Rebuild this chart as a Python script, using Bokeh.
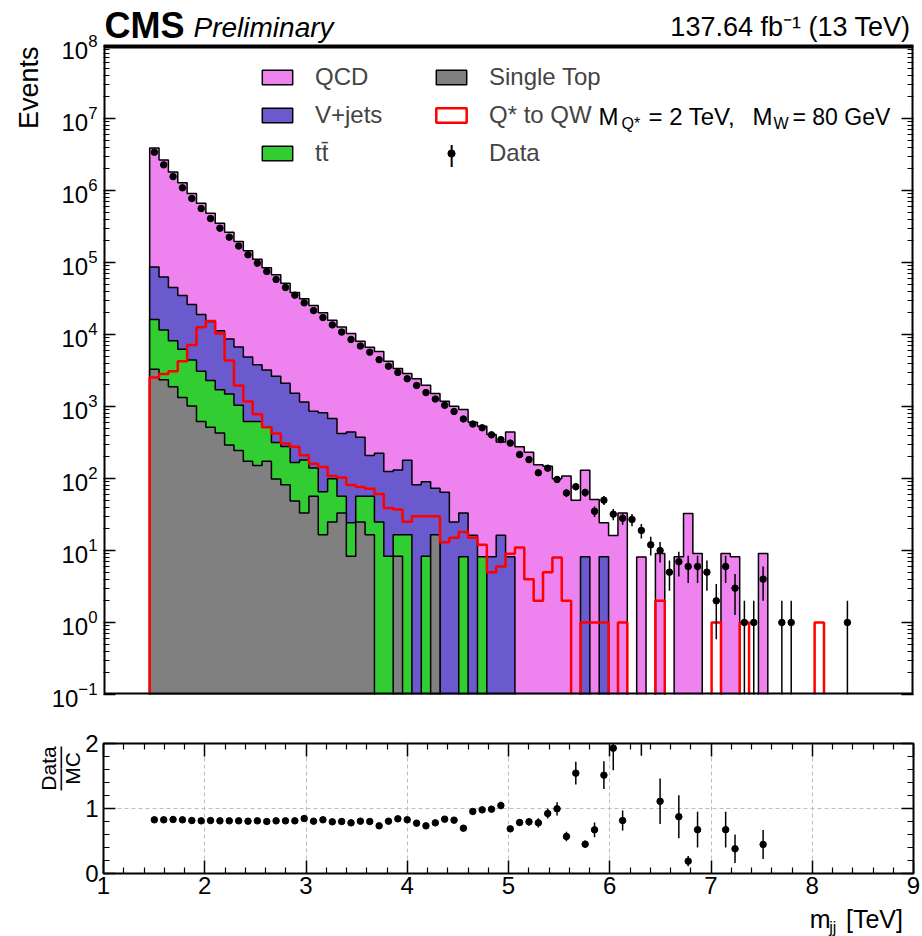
import numpy as np
from bokeh.plotting import figure
from bokeh.layouts import column
from bokeh.models import (FixedTicker, LogAxis, LinearAxis, Label, Legend, LegendItem,
                          CustomJSTickFormatter, Range1d, BoxAnnotation)
from bokeh.embed import file_html
from bokeh.resources import INLINE

FONT = "Liberation Sans"

# ---------------- binning (TeV) ----------------
edge_lo = 1.456
bin_width = 0.0925

# ---------------- per-bin yields (75 bins) ----------------
qcd = [3800000, 2590000, 1760000, 1250000, 886000, 646000, 469000, 341000, 254000, 189000,
       141000, 107000, 81300, 64700, 49200, 36700, 30100, 24400, 19200, 15100,
       12300, 9890, 7700, 6460, 5580, 4140, 3240, 2690, 2340, 1890,
       1440, 1120, 987, 875, 589, 525, 400, 304, 433, 275,
       232, 155, 148, 99, 108, 50, 122, 51, 16, 16.1,
       33.3, 0, 8.1, 0, 9.1, 0, 8.2, 32.7, 9.1, 0,
       0, 9.1, 8.2, 0, 0, 9.1, 0, 0, 0, 0,
       0, 0, 0, 0, 0]

vjets = [70400, 51400, 36600, 28700, 21600, 15800, 12800, 9540, 7170, 5640,
         4250, 3170, 2710, 2320, 1830, 1360, 976, 721, 752, 582,
         365, 417, 318, 151, 200, 117, 115, 163, 81.7, 81.6,
         57, 64.6, 24.8, 25.1, 16.3, 0, 8.2, 16.3, 8.2, 0,
         0, 0, 0, 0, 0, 0, 8.2, 0, 8.2, 0,
         0, 0, 0, 0, 0, 0, 0, 0, 0, 0,
         0, 0, 0, 0, 0, 0, 0, 0, 0, 0,
         0, 0, 0, 0, 0]

ttbar = [12800, 9160, 6310, 4900, 3420, 2470, 1790, 1280, 1200, 796,
         444, 466, 341, 217, 197, 118, 147, 83, 48.8, 74.1,
         23.6, 15.9, 32.1, 40.4, 24.8, 8.3, 8.2, 16.5, 0, 8.3,
         0, 0, 0, 8.2, 0, 8.2, 0, 0, 0, 0,
         0, 0, 0, 0, 0, 0, 0, 0, 0, 0,
         0, 0, 0, 0, 0, 0, 0, 0, 0, 0,
         0, 0, 0, 0, 0, 0, 0, 0, 0, 0,
         0, 0, 0, 0, 0]

single_top = [3300, 2360, 1880, 1330, 1020, 618, 515, 430, 292, 244,
              174, 152, 174, 98.6, 82.2, 48.8, 33.3, 56.9, 16.5, 24.8,
              33.3, 8.3, 24.8, 16.5, 0, 0, 8.3, 0, 0, 0,
              16.5, 0, 0, 0, 0, 0, 0, 0, 0, 0,
              0, 0, 0, 0, 0, 0, 0, 0, 0, 0,
              0, 0, 0, 0, 0, 0, 0, 0, 0, 0,
              0, 0, 0, 0, 0, 0, 0, 0, 0, 0,
              0, 0, 0, 0, 0]

signal = [2520, 2820, 3090, 4250, 7140, 12600, 15400, 10300, 4340, 1960,
          1170, 783, 515, 421, 306, 277, 210, 160, 145, 108,
          103, 81, 76, 72, 61, 39, 37, 25, 30, 30,
          30, 13, 15, 18, 15, 12, 5, 6, 9, 11,
          4, 2, 5, 8, 2, 0, 1, 1, 1, 0,
          1, 0, 0, 0, 2, 0, 0, 0, 0, 0,
          1, 0, 0, 1, 0, 0, 0, 0, 0, 0,
          0, 1, 0, 0, 0]

data = [3400000, 2270000, 1560000, 1090000, 775000, 562000, 408000, 300000, 225000, 169000,
        128000, 98000, 75000, 58100, 45000, 35200, 27500, 21500, 17200, 13600,
        10800, 8530, 6920, 5690, 4470, 3630, 2970, 2430, 1960, 1560,
        1270, 1040, 853, 671, 571, 506, 404, 347, 310, 215,
        183, 120, 139, 97, 63, 77, 64, 35, 50, 32,
        28, 27, 19, 12, 10, 5, 7, 6, 6, 5,
        2, 6, 3, 1, 1, 4, 0, 1, 1, 0,
        0, 0, 0, 0, 1]

nan = float("nan")
ratio = [0.826, 0.826, 0.831, 0.826, 0.815, 0.810, 0.815, 0.810, 0.810, 0.810,
         0.805, 0.810, 0.800, 0.810, 0.810, 0.810, 0.846, 0.805, 0.826, 0.795,
         0.800, 0.779, 0.805, 0.800, 0.733, 0.805, 0.841, 0.826, 0.774, 0.733,
         0.779, 0.836, 0.821, 0.697, 0.954, 0.979, 0.990, 1.046, 0.687, 0.785,
         0.795, 0.779, 0.923, 0.995, 0.569, 1.544, 0.451, 0.672, 1.513, 1.928,
         0.815, nan, 2.35, nan, 1.111, nan, 0.874, 0.190, 0.674, nan,
         nan, 0.674, 0.380, nan, nan, 0.447, nan, nan, nan, nan,
         nan, nan, nan, nan, nan]

x_major = [1, 2, 3, 4, 5, 6, 7, 8, 9]
ratio_major = [0, 1, 2]
y_lo, y_hi = 0.1, 1e8

# ---------------- derived geometry ----------------
n = len(data)
edges = edge_lo + bin_width * np.arange(n + 1)
centers = 0.5 * (edges[:-1] + edges[1:])

lvl_st = np.array(single_top, float)
lvl_tt = lvl_st + np.array(ttbar, float)
lvl_vj = lvl_tt + np.array(vjets, float)
lvl_all = lvl_vj + np.array(qcd, float)

FLOOR = 1e-3


def step_path(vals):
    v = np.asarray(vals, float)
    v = np.where(v > 0, v, FLOOR)
    xs = np.repeat(edges, 2)
    ys = np.concatenate([[FLOOR], np.repeat(v, 2), [FLOOR]])
    return xs, ys


QCD_C = "#ee82ee"
VJ_C = "#6a5acd"
TT_C = "#32cd32"
ST_C = "#808080"

# ---------------- main panel ----------------
# The frame reaches the top of the page so that the header text lives inside it;
# the plotted box (0.1 .. 1e8) spans the lower 648 px (72 px per decade).
FRAME_TOP_PAD = 46
PX_PER_DECADE = 72.0
y_frame_hi = y_hi * 10 ** (FRAME_TOP_PAD / PX_PER_DECADE)

p = figure(width=922, height=714, x_range=Range1d(1, 9), y_range=Range1d(y_lo, y_frame_hi),
           y_axis_type="log", output_backend="svg", toolbar_location=None,
           min_border_left=103, min_border_right=9, min_border_top=0, min_border_bottom=20)
p.xaxis.visible = False
p.grid.visible = False
p.outline_line_color = None
p.background_fill_color = "white"
p.border_fill_color = "white"

y_major = [10.0 ** k for k in range(-1, 9)]
y_minor = [m * 10.0 ** k for k in range(-1, 8) for m in range(2, 10)]
yticker = FixedTicker(ticks=y_major, minor_ticks=y_minor)


def style_axis(ax, labels=True, major_len=12, minor_len=6, standoff=6):
    ax.major_tick_in = major_len
    ax.major_tick_out = 0
    ax.minor_tick_in = minor_len
    ax.minor_tick_out = 0
    ax.major_tick_line_color = "black"
    ax.minor_tick_line_color = "black"
    ax.major_tick_line_width = 1.5
    ax.minor_tick_line_width = 1.2
    ax.axis_line_color = None
    ax.major_label_text_font = FONT
    ax.major_label_text_font_size = "24px"
    ax.major_label_text_color = "black"
    ax.major_label_standoff = standoff
    if not labels:
        ax.formatter = CustomJSTickFormatter(code="return ''")


p.yaxis.ticker = yticker
style_axis(p.yaxis[0])
ry_ax = LogAxis(ticker=yticker)
style_axis(ry_ax, labels=False)
p.add_layout(ry_ax, "right")

r_all = p.patch(*step_path(lvl_all), fill_color=QCD_C, line_color="black", line_width=1.5)
r_vj = p.patch(*step_path(lvl_vj), fill_color=VJ_C, line_color="black", line_width=1.5)
r_tt = p.patch(*step_path(lvl_tt), fill_color=TT_C, line_color="black", line_width=1.5)
r_st = p.patch(*step_path(lvl_st), fill_color=ST_C, line_color="black", line_width=1.5)
r_sig = p.patch(*step_path(signal), fill_color=None, line_color="#ff0000", line_width=2.5)

d = np.array(data, float)
dm = d > 0
dx = centers[dm]
dy = d[dm]
de = np.sqrt(dy)
p.segment(dx, np.maximum(dy - de, FLOOR), dx, dy + de, line_color="black", line_width=1.5)
r_data = p.scatter(dx, dy, size=6.5, color="black")

# plot box
p.add_layout(BoxAnnotation(left=1, right=9, bottom=y_lo, top=y_hi, fill_color=None,
                           fill_alpha=0, line_color="black", line_alpha=1.0, line_width=4))

leg_common = dict(border_line_color=None, background_fill_alpha=0, padding=0, margin=0,
                  spacing=10, glyph_width=38, glyph_height=18, label_standoff=19,
                  label_text_font=FONT, label_text_font_size="24px", label_height=27)
leg1 = Legend(items=[LegendItem(label="QCD", renderers=[r_all]),
                     LegendItem(label="V+jets", renderers=[r_vj]),
                     LegendItem(label="tt\u0304", renderers=[r_tt])],
              location=(155, 527), **leg_common)
leg2 = Legend(items=[LegendItem(label="Single Top", renderers=[r_st]),
                     LegendItem(label="Q* to QW", renderers=[r_sig]),
                     LegendItem(label="Data", renderers=[r_data])],
              location=(329, 527), **leg_common)
p.add_layout(leg1)
p.add_layout(leg2)


def slab(fig, x, y, text, size, **kw):
    """Label in screen pixels relative to the frame (origin bottom-left)."""
    fig.add_layout(Label(x=x, y=y, x_units="screen", y_units="screen", text=text,
                         text_font=FONT, text_font_size=size, text_color="black",
                         text_baseline="middle", **kw))


def plab(fig, side, x, y, text, size, **kw):
    """Label placed in a side panel, positioned in canvas pixels."""
    fig.add_layout(Label(x=x, y=y, x_units="canvas", y_units="canvas", text=text,
                         text_font=FONT, text_font_size=size, text_color="black",
                         text_baseline="middle", **kw), side)


def main_xy(px, py):
    return px - 103, 694 - py


# signal legend label remainder (with subscripts)
for txt, px, py, sz in [("M", 598, 116, "24px"), ("Q*", 621, 123, "16px"),
                        ("= 2 TeV,", 648, 116, "24px"), ("M", 752, 116, "24px"),
                        ("W", 773, 123, "16px"), ("= 80 GeV", 792, 116, "23px")]:
    sx, sy = main_xy(px, py)
    slab(p, sx, sy, txt, sz)
sx, sy = main_xy(451, 153)
slab(p, sx, sy, "|", "24px", text_align="center")

# header (inside the extended frame)
sx, sy = main_xy(104, 25)
slab(p, sx, sy, "CMS", "36px", text_font_style="bold")
sx, sy = main_xy(193, 27)
slab(p, sx, sy, "Preliminary", "28px", text_font_style="italic")
sx, sy = main_xy(910, 26)
slab(p, sx, sy, "137.64 fb\u207b\u00b9 (13 TeV)", "27px", text_align="right")

# y title in the left side panel
plab(p, "left", 28, 46, "Events", "27px", angle=np.pi / 2, text_align="right")

# ---------------- ratio panel ----------------
r = figure(width=922, height=190, x_range=p.x_range, y_range=Range1d(0, 2),
           output_backend="svg", toolbar_location=None,
           min_border_left=103, min_border_right=9, min_border_top=29, min_border_bottom=31)
r.outline_line_color = "black"
r.outline_line_width = 2
r.background_fill_color = "white"
r.border_fill_color = "white"

xticker = FixedTicker(ticks=x_major,
                      minor_ticks=[round(1 + 0.2 * k, 1) for k in range(41) if k % 5])
rticker = FixedTicker(ticks=ratio_major,
                      minor_ticks=[round(0.2 * k, 1) for k in range(11) if k % 5])
r.xaxis.ticker = xticker
r.yaxis.ticker = rticker
style_axis(r.xaxis[0], major_len=13, standoff=3)
style_axis(r.yaxis[0], standoff=5)
top_ax = LinearAxis(ticker=xticker)
style_axis(top_ax, labels=False, major_len=13)
r.add_layout(top_ax, "above")
right_ax = LinearAxis(ticker=rticker)
style_axis(right_ax, labels=False)
r.add_layout(right_ax, "right")

r.xgrid.ticker = xticker
r.ygrid.ticker = rticker
for g in (r.xgrid[0], r.ygrid[0]):
    g.grid_line_color = "#bdbdbd"
    g.grid_line_dash = "4 3"
    g.grid_line_width = 1

ra = np.array(ratio, float)
rm = ~np.isnan(ra)
rx = centers[rm]
rv = ra[rm]
rerr = rv / np.sqrt(d[rm])
r.segment(rx, rv - rerr, rx, rv + rerr, line_color="black", line_width=1.5)
r.scatter(rx, rv, size=6.5, color="black")

# Data/MC fraction in the left side panel (ratio canvas starts at page y=714)
plab(r, "left", 47.5, 54, "Data", "21px", angle=np.pi / 2, text_align="center")
plab(r, "left", 71.5, 54, "MC", "21px", angle=np.pi / 2, text_align="center")
plab(r, "left", 58.5, 54, "\u2014\u2014", "22px", angle=np.pi / 2, text_align="center")

# ---------------- x-axis title strip ----------------
foot = figure(width=922, height=32, x_range=Range1d(0, 922), y_range=Range1d(936, 904),
              output_backend="svg", toolbar_location=None, min_border=0,
              x_axis_location=None, y_axis_location=None)
foot.outline_line_color = None
foot.grid.visible = False
foot.background_fill_color = "white"
foot.border_fill_color = "white"
for txt, x, y, sz, al in [("m", 804, 918, "25px", "left"), ("jj", 826, 926.5, "16px", "left"),
                          ("[TeV]", 910, 918, "25px", "right")]:
    foot.add_layout(Label(x=x, y=y, text=txt, text_font=FONT, text_font_size=sz,
                          text_align=al, text_baseline="middle", text_color="black"))

layout = column(p, r, foot, spacing=0)
with open("out.html", "w") as f:
    f.write(file_html(layout, INLINE, "mjj"))
